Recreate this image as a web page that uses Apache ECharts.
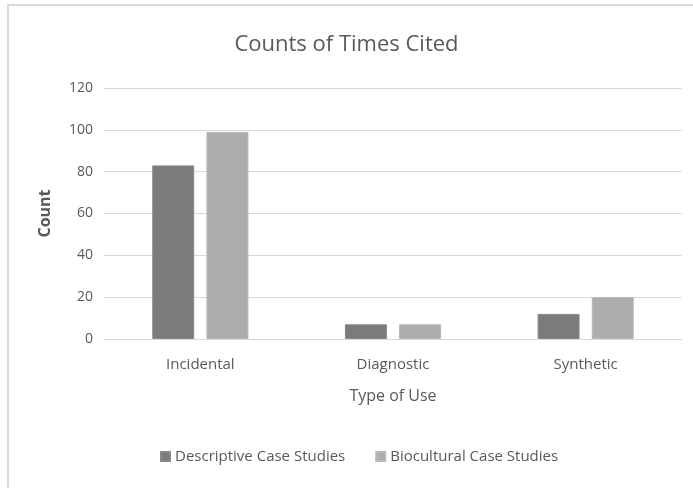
<!DOCTYPE html>
<html><head><meta charset="utf-8">
<script src="https://cdn.jsdelivr.net/npm/echarts@6/dist/echarts.min.js"></script>
<style>
html,body{margin:0;padding:0;background:#fff;}
#frame{position:absolute;left:7px;top:4px;width:700px;height:500px;border-left:2px solid #d9d9d9;border-top:2px solid #d9d9d9;}
#c{position:absolute;left:0;top:0;width:693px;height:488px;}
</style></head>
<body>
<div id="frame"></div>
<div id="c"></div>
<script>
const categories = ["Incidental", "Diagnostic", "Synthetic"];
const descriptive = [83, 7, 12];
const biocultural = [99, 7, 20];
const seriesNames = ["Descriptive Case Studies", "Biocultural Case Studies"];

const chart = echarts.init(document.getElementById('c'));
const FONT = "'Open Sans', sans-serif";
chart.setOption({
  animation: false,
  textStyle: {fontFamily: FONT},
  title: {text: "Counts of Times Cited", left: 'center', top: 29,
    textStyle: {fontFamily: FONT, fontSize: 22, fontWeight: 'normal', color: '#595959'}},
  grid: {left: 104, right: 11, top: 88, bottom: 149},
  legend: {bottom: 19, left: 155, itemWidth: 9, itemHeight: 9, itemGap: 30,
    icon: 'rect', textStyle: {fontFamily: FONT, fontSize: 15, color: '#595959'},
    data: seriesNames},
  xAxis: {type: 'category', data: categories,
    name: "Type of Use", nameLocation: 'middle', nameGap: 49,
    nameTextStyle: {fontFamily: FONT, fontSize: 16, color: '#595959'},
    axisLine: {show: true, lineStyle: {color: '#d9d9d9'}},
    axisTick: {show: false},
    axisLabel: {fontFamily: FONT, fontSize: 15, color: '#595959', margin: 18}},
  yAxis: {type: 'value', min: 0, max: 120, interval: 20,
    name: "Count", nameLocation: 'middle', nameGap: 51, nameRotate: 90,
    nameTextStyle: {fontFamily: FONT, fontSize: 16, fontWeight: 'bold', color: '#595959'},
    axisLine: {show: false}, axisTick: {show: false},
    axisLabel: {fontFamily: FONT, fontSize: 14, color: '#595959', margin: 11},
    splitLine: {lineStyle: {color: '#d9d9d9', width: 1}}},
  series: [
    {name: seriesNames[0], type: 'bar', data: descriptive, barWidth: 42, barGap: '29%',
      itemStyle: {color: '#7b7b7b', borderColor: '#8a8a8a', borderWidth: 1}},
    {name: seriesNames[1], type: 'bar', data: biocultural, barWidth: 42,
      itemStyle: {color: '#adadad', borderColor: '#b8b8b8', borderWidth: 1}}
  ]
});
</script>
</body></html>
